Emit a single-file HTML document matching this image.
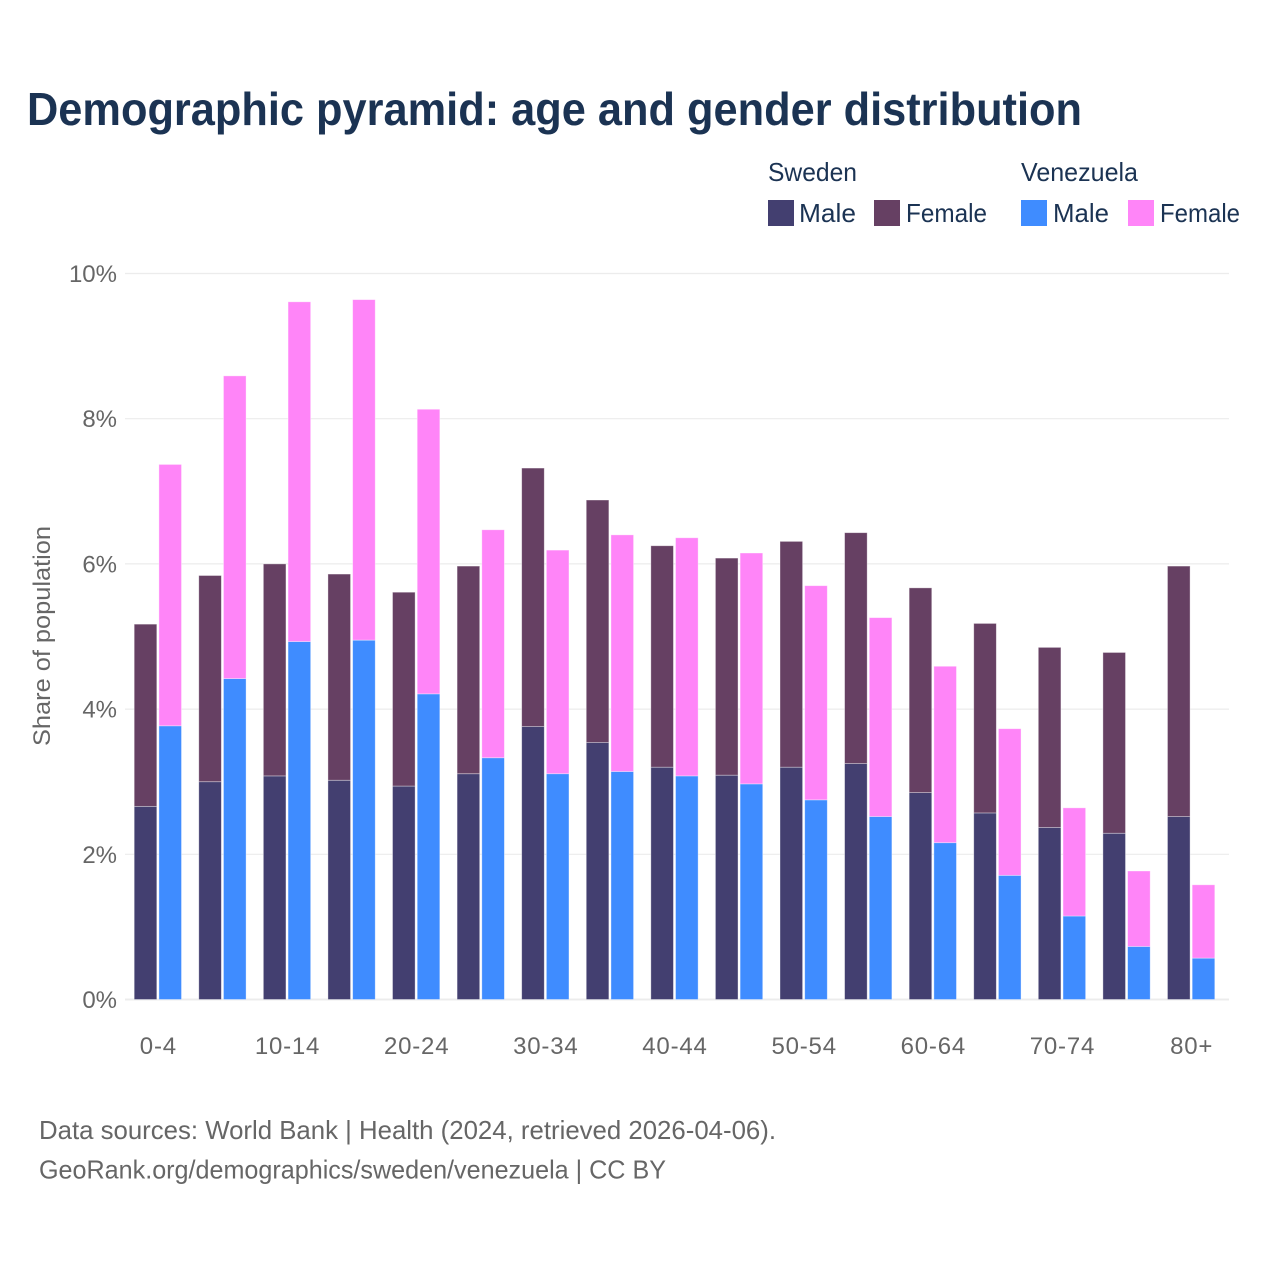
<!DOCTYPE html>
<html lang="en">
<head>
<meta charset="utf-8">
<title>Demographic pyramid: age and gender distribution</title>
<style>
html,body{margin:0;padding:0;background:#fff;}
svg{display:block;font-family:"Liberation Sans",sans-serif;}
</style>
</head>
<body>
<svg id="chart" xmlns="http://www.w3.org/2000/svg" width="1280" height="1280" viewBox="0 0 1280 1280">
  <rect x="0" y="0" width="1280" height="1280" fill="#ffffff"/>
  <text x="27" y="125" font-size="46" font-weight="700" fill="#1b3353" textLength="1055" lengthAdjust="spacingAndGlyphs">Demographic pyramid: age and gender distribution</text>

  <g id="plot"></g>

  <text transform="translate(50 636) rotate(-90)" text-anchor="middle" font-size="24" fill="#666666" textLength="220" lengthAdjust="spacingAndGlyphs">Share of population</text>

  <g font-size="26" fill="#1b3353">
    <text x="768" y="181" textLength="89" lengthAdjust="spacingAndGlyphs">Sweden</text>
    <text x="1021" y="181" textLength="117" lengthAdjust="spacingAndGlyphs">Venezuela</text>
    <g>
      <rect x="768" y="200" width="26" height="26" fill="#433f70"/>
      <text x="799" y="222" textLength="57" lengthAdjust="spacingAndGlyphs">Male</text>
    </g>
    <g>
      <rect x="874" y="200" width="26" height="26" fill="#664063"/>
      <text x="906" y="222" textLength="81" lengthAdjust="spacingAndGlyphs">Female</text>
    </g>
    <g>
      <rect x="1021" y="200" width="26" height="26" fill="#3f8cff"/>
      <text x="1053" y="222" textLength="56" lengthAdjust="spacingAndGlyphs">Male</text>
    </g>
    <g>
      <rect x="1128" y="200" width="26" height="26" fill="#ff85f8"/>
      <text x="1160" y="222" textLength="80" lengthAdjust="spacingAndGlyphs">Female</text>
    </g>
  </g>

  <text x="39" y="1139" font-size="26" fill="#666666" textLength="737" lengthAdjust="spacingAndGlyphs">Data sources: World Bank | Health (2024, retrieved 2026-04-06).</text>
  <text x="39" y="1178.5" font-size="26" fill="#666666" textLength="627" lengthAdjust="spacingAndGlyphs">GeoRank.org/demographics/sweden/venezuela | CC BY</text>
</svg>
<script>
var categories = ["0-4","5-9","10-14","15-19","20-24","25-29","30-34","35-39","40-44","45-49","50-54","55-59","60-64","65-69","70-74","75-79","80+"];
var swedenMale = [2.66,3.00,3.08,3.02,2.94,3.11,3.76,3.54,3.20,3.09,3.20,3.25,2.85,2.57,2.37,2.29,2.52];
var swedenFemale = [2.51,2.84,2.92,2.84,2.67,2.86,3.56,3.34,3.05,2.99,3.11,3.18,2.82,2.61,2.48,2.49,3.45];
var venezuelaMale = [3.77,4.42,4.93,4.95,4.21,3.33,3.11,3.14,3.08,2.97,2.75,2.52,2.16,1.71,1.15,0.73,0.57];
var venezuelaFemale = [3.60,4.17,4.68,4.69,3.92,3.14,3.08,3.26,3.28,3.18,2.95,2.74,2.43,2.02,1.49,1.04,1.01];
var yTicks = [0,2,4,6,8,10];
var xLabelStep = 2;

(function () {
  var NS = 'http://www.w3.org/2000/svg';
  var plot = document.getElementById('plot');
  var left = 125, right = 1229, top0 = 273.5, bottom = 999.5, yMax = 10;
  var firstBarX = 134.2, groupStep = 64.58, barW = 22.6, barGap = 24.7;

  function y(v) { return bottom - (v / yMax) * (bottom - top0); }
  function groupX(i) { return firstBarX + i * groupStep; }

  function make(tag, attrs) {
    var el = document.createElementNS(NS, tag);
    for (var k in attrs) el.setAttribute(k, attrs[k]);
    plot.appendChild(el);
    return el;
  }

  yTicks.forEach(function (t) {
    var line = make('line', {x1: left, x2: right, y1: y(t), y2: y(t), stroke: '#ececec', 'stroke-width': t === 0 ? 2 : 1.2});
    
    
    var label = make('text', {x: 117, y: y(t) + 8.5, 'text-anchor': 'end', 'font-size': 24, fill: '#666666'});
    label.textContent = t + '%';
    
    
  });

  function drawBar(x, base, value, color, name) {
    var r = make('rect', {
      x: x, y: y(base + value), width: barW, height: y(base) - y(base + value),
      fill: color, stroke: '#ffffff', 'stroke-opacity': 0.45, 'stroke-width': 0.8
    });
    
    
  }

  categories.forEach(function (c, i) {
    var x0 = groupX(i);
    drawBar(x0, 0, swedenMale[i], '#433f70', 'bar-sweden-male-' + c);
    drawBar(x0, swedenMale[i], swedenFemale[i], '#664063', 'bar-sweden-female-' + c);
    drawBar(x0 + barGap, 0, venezuelaMale[i], '#3f8cff', 'bar-venezuela-male-' + c);
    drawBar(x0 + barGap, venezuelaMale[i], venezuelaFemale[i], '#ff85f8', 'bar-venezuela-female-' + c);
    if (i % xLabelStep === 0) {
      var label = make('text', {x: x0 + (barGap + barW) / 2 + 0.5, y: 1054, 'text-anchor': 'middle', 'font-size': 24, fill: '#666666', 'letter-spacing': 0.8});
      label.textContent = c;
      
      
    }
  });
})();
</script>
</body>
</html>
